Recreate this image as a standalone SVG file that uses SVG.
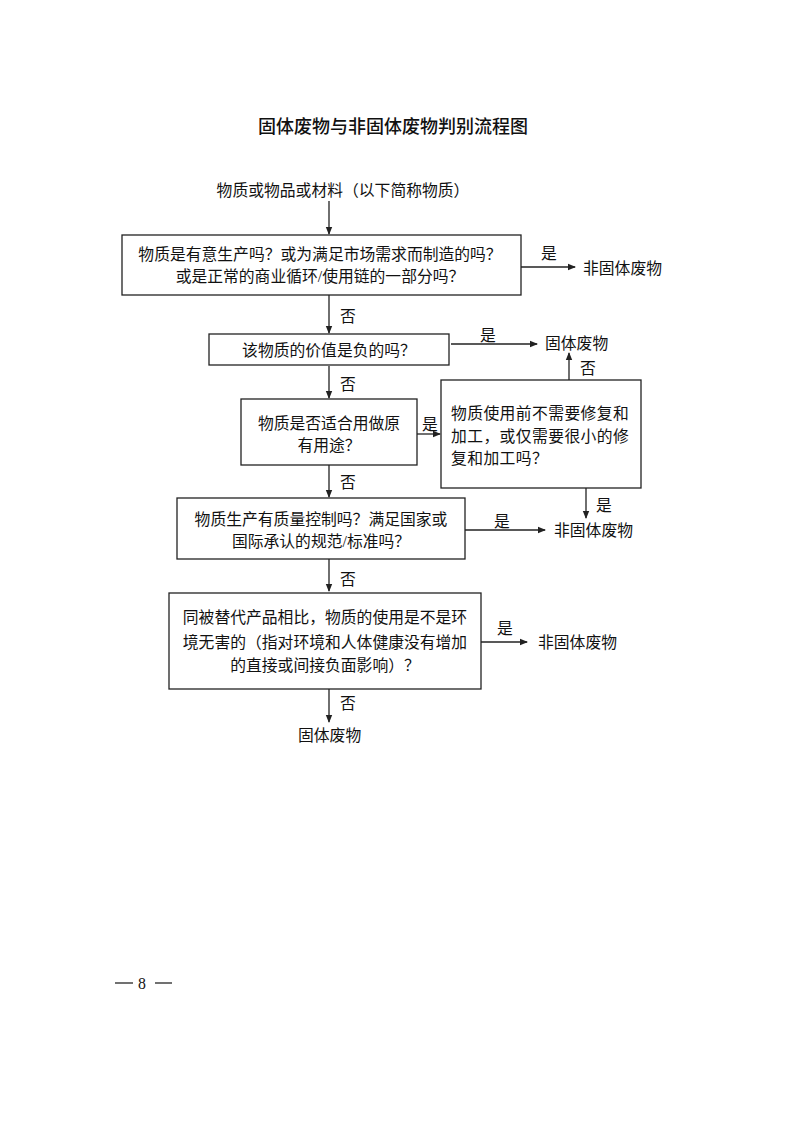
<svg xmlns="http://www.w3.org/2000/svg" width="793" height="1122" viewBox="0 0 793 1122">
<style>
text{font-family:"Liberation Serif","Noto Sans CJK SC",serif;font-size:15.8px;fill:#111;}
.t{font-family:"Noto Sans CJK SC",sans-serif;font-size:18px;font-weight:500;}
.c{text-anchor:middle;}
.box{fill:#fff;stroke:#222;stroke-width:1.3;}
.ln{fill:none;stroke:#222;stroke-width:1.3;marker-end:url(#ah);}
</style>
<defs>
<marker id="ah" markerWidth="8" markerHeight="8" refX="7" refY="4" orient="auto" markerUnits="userSpaceOnUse">
<path d="M0,0.8 L8,4 L0,7.2 Z" fill="#222"/>
</marker>
</defs>
<rect width="793" height="1122" fill="#fff"/>
<text class="t c" x="393" y="133">固体废物与非固体废物判别流程图</text>

<g id="start"><text class="c" x="343" y="196">物质或物品或材料（以下简称物质）</text></g>

<g id="box1">
<rect class="box" x="122" y="235" width="399" height="60"/>
<text class="c" x="320" y="260">物质是有意生产吗？或为满足市场需求而制造的吗？</text>
<text class="c" x="320" y="282">或是正常的商业循环/使用链的一部分吗？</text>
</g>
<g id="out1"><text x="583" y="274">非固体废物</text></g>

<g id="box2">
<rect class="box" x="209" y="334" width="240" height="31"/>
<text class="c" x="329" y="356">该物质的价值是负的吗？</text>
</g>
<g id="out2"><text x="545" y="349">固体废物</text></g>

<g id="box3">
<rect class="box" x="241" y="399" width="176" height="66"/>
<text class="c" x="329" y="429">物质是否适合用做原</text>
<text class="c" x="329" y="451">有用途？</text>
</g>

<g id="box4">
<rect class="box" x="441" y="380" width="200" height="108"/>
<text x="451" y="419" letter-spacing="0.4">物质使用前不需要修复和</text>
<text x="451" y="442" letter-spacing="0.4">加工，或仅需要很小的修</text>
<text x="451" y="464" letter-spacing="0.4">复和加工吗？</text>
</g>

<g id="box5">
<rect class="box" x="177" y="498" width="288" height="61"/>
<text class="c" x="321" y="525">物质生产有质量控制吗？满足国家或</text>
<text class="c" x="321" y="547">国际承认的规范/标准吗？</text>
</g>
<g id="out5"><text x="554" y="536">非固体废物</text></g>

<g id="box6">
<rect class="box" x="169" y="593" width="312" height="96"/>
<text class="c" x="325" y="623">同被替代产品相比，物质的使用是不是环</text>
<text class="c" x="325" y="648">境无害的（指对环境和人体健康没有增加</text>
<text class="c" x="325" y="671">的直接或间接负面影响）？</text>
</g>
<g id="out6"><text x="538" y="648">非固体废物</text></g>

<g id="end"><text x="298" y="741">固体废物</text></g>

<g id="connectors">
<line class="ln" x1="329" y1="201" x2="329" y2="234"/>
<line class="ln" x1="521" y1="267" x2="575" y2="267"/>
<text x="541" y="259">是</text>
<line class="ln" x1="329" y1="295" x2="329" y2="333"/>
<text x="340" y="322">否</text>
<line class="ln" x1="451" y1="344" x2="537" y2="344"/>
<text x="480" y="341">是</text>
<line class="ln" x1="329" y1="366" x2="329" y2="398"/>
<text x="340" y="390">否</text>
<line class="ln" x1="417" y1="434" x2="440" y2="434"/>
<text x="422" y="430">是</text>
<line class="ln" x1="569" y1="380" x2="569" y2="353"/>
<text x="580" y="374">否</text>
<line class="ln" x1="586" y1="488" x2="586" y2="518"/>
<text x="596" y="511">是</text>
<line class="ln" x1="329" y1="465" x2="329" y2="497"/>
<text x="340" y="488">否</text>
<line class="ln" x1="465" y1="530" x2="545" y2="530"/>
<text x="494" y="527">是</text>
<line class="ln" x1="329" y1="559" x2="329" y2="591"/>
<text x="340" y="585">否</text>
<line class="ln" x1="481" y1="642" x2="527" y2="642"/>
<text x="497" y="634">是</text>
<line class="ln" x1="329" y1="689" x2="329" y2="722"/>
<text x="340" y="709">否</text>
</g>

<g id="page">
<line x1="115" y1="983" x2="133" y2="983" stroke="#111" stroke-width="1.2"/>
<text x="138" y="989" font-size="18">8</text>
<line x1="155" y1="983" x2="172" y2="983" stroke="#111" stroke-width="1.2"/>
</g>
</svg>
